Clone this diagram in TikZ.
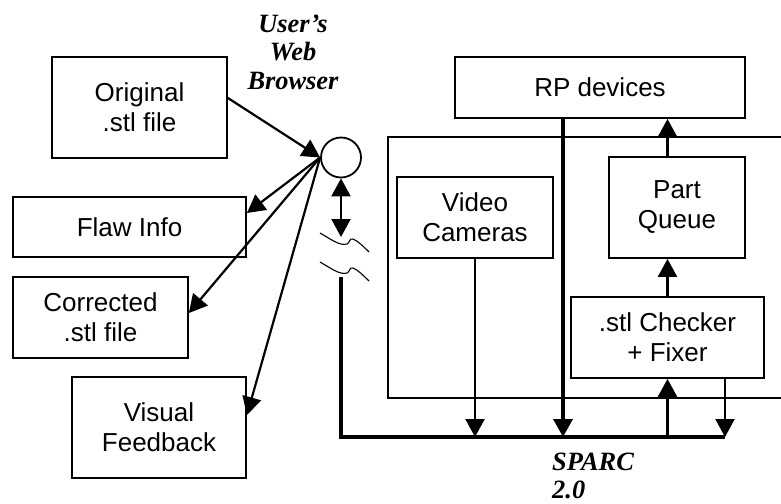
\documentclass[tikz,border=0pt]{standalone}
\usepackage{fontspec}
\setmainfont{Liberation Sans}
\newfontfamily\titlefont{Liberation Serif}
\usetikzlibrary{arrows.meta}

\begin{document}
\begin{tikzpicture}[x=1pt,y=-1pt,
  box/.style={draw, line width=1.8pt, inner sep=0pt, align=center,
              font=\fontsize{26}{30}\selectfont},
  tip/.style={-{Triangle[length=18pt,width=19pt]}},
  arr/.style={line width=2.2pt, tip},
  thin/.style={line width=2.2pt},
  heavy/.style={line width=3.6pt},
  label/.style={inner sep=0pt, font=\titlefont\bfseries\itshape\fontsize{26.4}{28.5}\selectfont},
  brk/.style={line width=1.1pt}]
  \useasboundingbox (0,0) rectangle (781,503);

  % user-side boxes
  \node[box, minimum width=175pt, minimum height=101pt] (orig) at (139.5,107.5) {Original\\.stl file};
  \node[box, minimum width=233pt, minimum height=60pt]  (flaw) at (129.5,227) {Flaw Info};
  \node[box, minimum width=175pt, minimum height=81pt]  (corr) at (100.5,317.5) {Corrected\\.stl file};
  \node[box, minimum width=174pt, minimum height=101pt] (vis)  at (159,427.5) {Visual\\Feedback};

  % browser
  \node[circle, draw, line width=1.8pt, minimum size=40pt, inner sep=0pt] (web) at (341,157.5) {};
  \node[label, align=center] (wb) at (293,52) {User’s\\Web\\Browser};

  \draw[arr] ([yshift=9.5pt]orig.east) -- (web.west);
  \draw[arr] (web.west) -- ([yshift=14pt]flaw.east);
  \draw[arr] (web.west) -- ([yshift=4.5pt]corr.east);
  \draw[arr] (web.west) -- ([yshift=12.5pt]vis.east);

  % link to the server, with a break
  \coordinate (lnk) at (341,237);
  \draw[thin, {Triangle[length=18pt,width=19pt]}-{Triangle[length=18pt,width=19pt]}] (web.south) -- (lnk);
  \draw[brk] (320,233) .. controls (332,240) and (340,246) .. (347,244)
             .. controls (350,243) and (349,238) .. (353,239)
             .. controls (358,241) and (364,247) .. (369,252);
  \draw[brk] (320,262) .. controls (332,269) and (340,275) .. (347,273)
             .. controls (350,272) and (349,267) .. (353,268)
             .. controls (358,270) and (364,276) .. (369,281);

  % server side
  \node[box, minimum width=290pt, minimum height=61pt]  (rp)  at (600,87.5) {RP devices};
  \draw[line width=1.8pt] (781,137) -| (388,398) -- (781,398);
  \node[box, minimum width=156pt, minimum height=81pt]  (vid) at (475,217.5) {Video\\Cameras};
  \node[box, minimum width=136pt, minimum height=101pt] (pq)  at (677,207.5) {Part\\Queue};
  \node[box, minimum width=193pt, minimum height=81pt]  (chk) at (667.5,337.5) {.stl Checker\\+ Fixer};

  % bus
  \coordinate (srv) at (341,277);
  \coordinate (busR) at (725,437);
  \draw[heavy] (srv) |- (busR);

  \coordinate (rpout) at ([xshift=-37pt]rp.south);
  \draw[heavy, tip] (rpout) -- (rpout |- busR);
  \draw[arr] (vid.south) -- (vid.south |- busR);
  \draw[arr] (chk.south |- busR) -- (chk.south);
  \draw[arr] (busR |- chk.south) -- (busR);
  \draw[arr] (chk.north) -- (chk.north |- pq.south);
  \draw[arr] (chk.north |- pq.north) -- (chk.north |- rp.south);

  \node[label, align=left, anchor=west] (sparc) at (552,476) {SPARC\\2.0};
\end{tikzpicture}
\end{document}
